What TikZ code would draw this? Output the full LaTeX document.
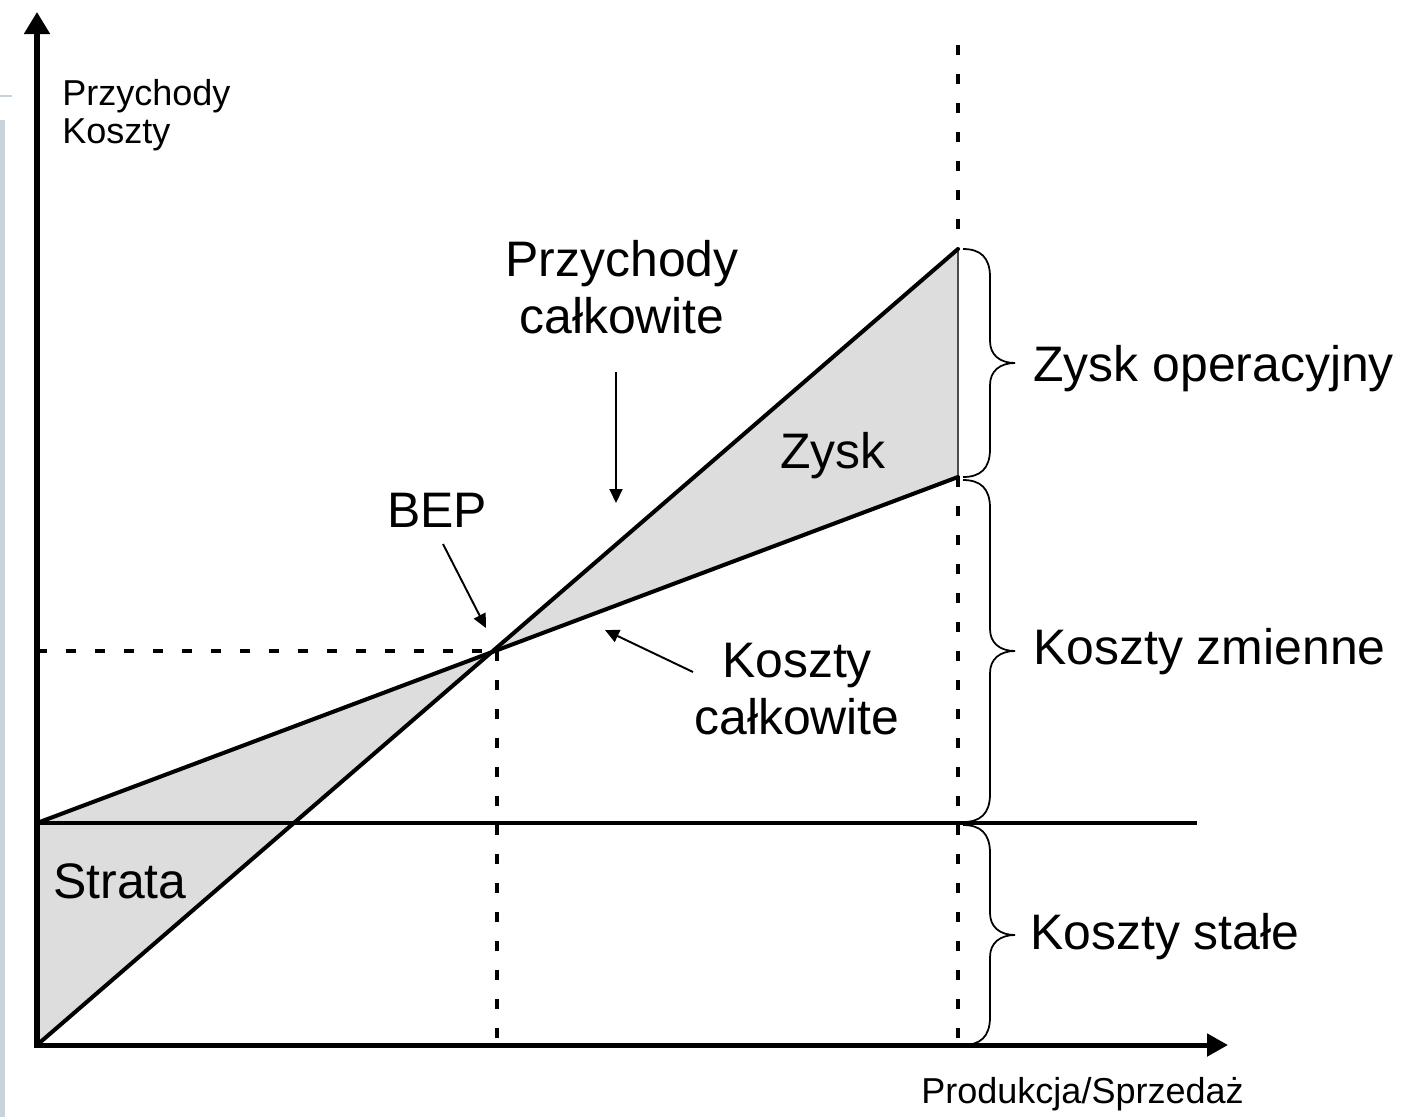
\documentclass[tikz,border=0pt]{standalone}
\usepackage{fontspec}
\setmainfont{Liberation Sans}
\usetikzlibrary{arrows.meta,calc}
\definecolor{shadegray}{RGB}{221,221,221}
\definecolor{stripcol}{RGB}{200,211,219}
\begin{document}
\begin{tikzpicture}[x=0.02cm,y=-0.02cm,
  big/.style={font=\fontsize{28.4pt}{30pt}\selectfont, inner sep=0pt},
  small/.style={font=\fontsize{20.5pt}{22pt}\selectfont, inner sep=0pt},
  axisline/.style={line width=2.85pt, line join=miter,
    {Triangle[length=0.44cm,width=0.5cm]}-{Triangle[length=0.42cm,width=0.44cm]}},
  mainline/.style={line width=2.3pt, line cap=round},
  dotline/.style={line width=2.3pt, dash pattern=on 0.2cm off 0.38cm},
  pointer/.style={line width=1.1pt, -{Triangle[length=0.28cm,width=0.26cm]}},
  bracepath/.style={line width=1pt}
]
\useasboundingbox (0,0) rectangle (1412,1117);
% side strip of the page
\fill[stripcol] (0,120) rectangle (5,1117);
\draw[stripcol, line width=0.9pt] (0,96) -- (12,96);

% key points
\coordinate (O) at (37,1045);
\coordinate (F0) at (37,823);
\coordinate (F1) at (1197,823);
\coordinate (bep) at (494,651);
\coordinate (R1) at (958,249);
\coordinate (C1) at (958,477);
\coordinate (Ytip) at (37,12);
\coordinate (Xtip) at (1228,1045);
\coordinate (Vtop) at (958,45);
\coordinate (Vbot) at (958,1045);

% shaded areas
\fill[shadegray] (F0) -- (O) -- (bep) -- cycle;
\fill[shadegray] (bep) -- (R1) -- (C1) -- cycle;
\draw[line width=0.9pt, black!70] (R1) -- (C1);

% dotted guides
\draw[dotline] (O |- bep) -- (bep);
\draw[dotline] ([xshift=0.06cm]bep) -- ([xshift=0.06cm]bep |- O);
\draw[dotline] (Vtop) -- (R1);
\draw[dotline] (C1) -- (Vbot);

% lines
\draw[line width=2.2pt] (F0) -- (F1);
\draw[mainline] (O) -- (R1);
\draw[mainline] (F0) -- (C1);

% axes
\draw[axisline] (Ytip) -- (O) -- (Xtip);

% braces
\foreach \ya/\yb in {249/477, 480/822, 825/1045} {
  \pgfmathsetmacro\ym{(\ya+\yb)/2}
  \draw[bracepath] (963,\ya) .. controls (980,\ya) and (990,\ya+8) .. (990,\ya+28)
    -- (990,\ym-22) .. controls (990,\ym-8) and (1000,\ym) .. (1015,\ym)
    .. controls (1000,\ym) and (990,\ym+8) .. (990,\ym+22)
    -- (990,\yb-28) .. controls (990,\yb-8) and (980,\yb) .. (963,\yb);
}

% labels
\node[small, anchor=base west] (ylab1) at (62,105) {Przychody};
\node[small, anchor=base west] (ylab2) at (62,143) {Koszty};
\node[small, anchor=base west] (xlab) at (921,1103) {Produkcja/Sprzedaż};
\node[big, anchor=base] (rev1) at (622,276) {Przychody};
\node[big, anchor=base] (rev2) at (622,333) {całkowite};
\node[big, anchor=base west] (beplab) at (387,527) {BEP};
\node[big, anchor=base west] (zysk) at (780,468) {Zysk};
\node[big, anchor=base] (tc1) at (797,677) {Koszty};
\node[big, anchor=base] (tc2) at (797,734) {całkowite};
\node[big, anchor=base west] (strata) at (53,898) {Strata};
\node[big, anchor=base west] (zo) at (1033,381) {Zysk operacyjny};
\node[big, anchor=base west] (kz) at (1033,664) {Koszty zmienne};
\node[big, anchor=base west] (ks) at (1030,949) {Koszty stałe};

% pointers
\coordinate (pa1) at (616,372); \coordinate (pa2) at (616,503);
\coordinate (pb1) at (443,544); \coordinate (pb2) at (486,628);
\coordinate (pc1) at (693,672); \coordinate (pc2) at (605,630);
\draw[pointer] (pa1) -- (pa2);
\draw[pointer] (pb1) -- (pb2);
\draw[pointer] (pc1) -- (pc2);
\end{tikzpicture}
\end{document}
